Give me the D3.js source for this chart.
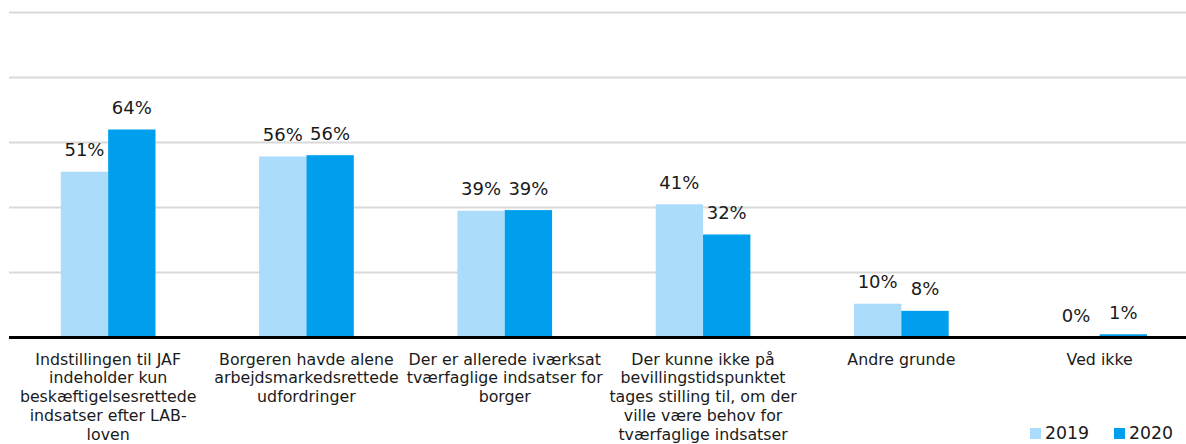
<!DOCTYPE html>
<html>
<head>
<meta charset="utf-8">
<script src="https://cdn.jsdelivr.net/npm/d3@7/dist/d3.min.js"></script>
<style>
  html, body { margin: 0; padding: 0; background: #fff; }
  svg { display: block; font-family: "DejaVu Sans", Verdana, sans-serif; }
</style>
</head>
<body>
<svg id="chart" width="1186" height="444"></svg>
<script>
// ---- data ----
const categories = [
  "Indstillingen til JAF\nindeholder kun\nbeskæftigelsesrettede\nindsatser efter LAB-\nloven",
  "Borgeren havde alene\narbejdsmarkedsrettede\nudfordringer",
  "Der er allerede iværksat\ntværfaglige indsatser for\nborger",
  "Der kunne ikke på\nbevillingstidspunktet\ntages stilling til, om der\nville være behov for\ntværfaglige indsatser",
  "Andre grunde",
  "Ved ikke"
];
const seriesNames = ["2019", "2020"];
const values2019 = [51, 55.7, 39, 41, 10.4, 0];
const values2020 = [64, 56.1, 39.2, 31.7, 8.2, 1];
const yTicks = [20, 40, 60, 80, 100];
const colors = ["#ABDCFC", "#009FEE"];

// ---- layout ----
const W = 1186, H = 444;
const svg = d3.select("#chart");
const x = d3.scaleBand().domain(categories).range([9, 1198.8]).paddingInner(0.5225).paddingOuter(0.26125);
const xs = d3.scaleBand().domain(seriesNames).range([0, x.bandwidth()]);
const y = d3.scaleLinear().domain([0, 100]).range([337.5, 12.5]);

// gridlines
svg.append("g").selectAll("line").data(yTicks).join("line")
  .attr("x1", 9).attr("x2", W)
  .attr("y1", d => y(d)).attr("y2", d => y(d))
  .attr("stroke", "#d9d9d9").attr("stroke-width", 2);

const series = [values2019, values2020];
const fmt = v => d3.format(".0f")(v) + "%";

series.forEach((vals, si) => {
  const g = svg.append("g");
  g.selectAll("rect").data(vals).join("rect")
    .attr("x", (d, i) => x(categories[i]) + xs(seriesNames[si]))
    .attr("width", xs.bandwidth())
    .attr("y", d => y(d))
    .attr("height", d => y(0) - y(d))
    .attr("fill", colors[si]);
  g.selectAll("text").data(vals).join("text")
    .attr("x", (d, i) => x(categories[i]) + xs(seriesNames[si]) + xs.bandwidth() / 2)
    .attr("y", d => y(d) - 15.5)
    .attr("text-anchor", "middle")
    .attr("font-size", "18px")
    .attr("fill", "#1a1a1a")
    .text(d => fmt(d));
});

// baseline
svg.append("line")
  .attr("x1", 9).attr("x2", W)
  .attr("y1", y(0)).attr("y2", y(0))
  .attr("stroke", "#000").attr("stroke-width", 3);

// category labels
const xl = svg.append("g");
categories.forEach(c => {
  const t = xl.append("text")
    .attr("x", x(c) + x.bandwidth() / 2)
    .attr("y", 364.5)
    .attr("text-anchor", "middle")
    .attr("font-size", "15.8px")
    .attr("fill", "#1a1a1a");
  c.split("\n").forEach((line, i) => {
    t.append("tspan").attr("x", x(c) + x.bandwidth() / 2)
      .attr("dy", i === 0 ? 0 : 18.8).text(line);
  });
});

// legend
const legendX = [1030, 1114];
const lg = svg.append("g");
seriesNames.forEach((s, i) => {
  lg.append("rect").attr("x", legendX[i]).attr("y", 428).attr("width", 11).attr("height", 11).attr("fill", colors[i]);
  lg.append("text").attr("x", legendX[i] + 15).attr("y", 439)
    .attr("font-size", "17.3px").attr("fill", "#1a1a1a").text(s);
});
</script>
</body>
</html>
